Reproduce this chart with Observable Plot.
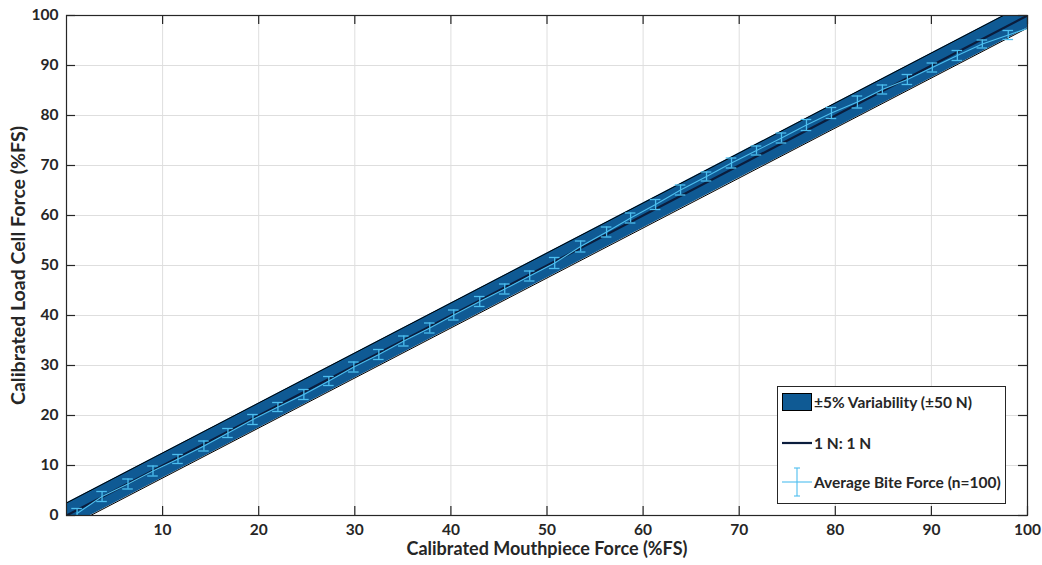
<!DOCTYPE html>
<html>
<head>
<meta charset="utf-8">
<script src="https://cdn.jsdelivr.net/npm/d3@7"></script>
<script src="https://cdn.jsdelivr.net/npm/@observablehq/plot@0.6"></script>
<style>
  html, body { margin: 0; padding: 0; background: #fff; }
  #wrap { position: relative; width: 1042px; height: 565px; font-family: Lato, "DejaVu Sans", sans-serif; }
  #legend { position: absolute; left: 777px; top: 386px; width: 229px; height: 118px; background: #fff; border: 1px solid #262626; box-sizing: border-box; }
  .li { position: absolute; left: 3px; display: flex; align-items: center; font-size: 15.5px; font-weight: 700; color: #262626; white-space: nowrap; }
  .li svg { display: block; margin-right: 1px; }
</style>
</head>
<body>
<div id="wrap"></div>
<script>
// ---- data ----
const meanX = [1.1, 3.7, 6.4, 9.0, 11.6, 14.3, 16.8, 19.4, 22.0, 24.7, 27.3, 29.9, 32.5, 35.1, 37.8, 40.3, 43.0, 45.6, 48.2, 50.8, 53.5, 56.2, 58.7, 61.3, 63.9, 66.6, 69.2, 71.8, 74.4, 77.0, 79.6, 82.3, 84.9, 87.5, 90.1, 92.7, 95.3, 98.0, 100.6];
const meanY = [0.4, 3.8, 6.3, 8.9, 11.3, 13.9, 16.5, 19.2, 21.7, 24.2, 26.9, 29.7, 32.2, 34.9, 37.5, 40.1, 42.8, 45.3, 47.9, 50.5, 53.8, 56.7, 59.5, 62.2, 65.1, 67.8, 70.5, 73.0, 75.5, 78.1, 80.5, 82.7, 85.2, 87.2, 89.6, 92.0, 94.3, 96.1, 97.8];
const errY  = [1.0, 1.0, 1.0, 1.0, 0.9, 1.0, 0.9, 1.0, 0.9, 1.0, 0.9, 1.0, 1.0, 1.0, 1.0, 1.0, 1.0, 1.0, 1.0, 1.1, 1.1, 1.0, 1.0, 1.0, 1.0, 0.9, 1.0, 0.9, 1.0, 1.1, 1.1, 1.2, 0.9, 1.0, 0.9, 1.0, 0.8, 0.9, 0.9];
const idealX = [0, 100];
const idealY = [0, 100];
const bandHalf = 2.5; // ±5% variability band (±50 N) in %FS
const xTicks = [10, 20, 30, 40, 50, 60, 70, 80, 90, 100];
const yTicks = [0, 10, 20, 30, 40, 50, 60, 70, 80, 90, 100];
const xLabel = "Calibrated Mouthpiece Force (%FS)";
const yLabel = "Calibrated Load Cell Force (%FS)";
const legendLabels = ["±5% Variability (±50 N)", "1 N: 1 N", "Average Bite Force (n=100)"];

// ---- styles ----
const bandFill = "#0f5a94";
const idealColor = "#0b1d3d";
const meanColor = "#4dbeee";
const axisColor = "#262626";
const gridColor = "#dedede";
const capHalf = 0.55;

const ideal = idealX.map((x, i) => ({x, y: idealY[i]}));
const band = ideal.map(d => ({x: d.x, lo: d.y - bandHalf, hi: d.y + bandHalf}));
const pts = meanX.map((x, i) => ({x, y: meanY[i], e: errY[i]}));

const W = 1042, H = 565;
const mL = 66, mR = 15, mT = 15, mB = 50;
const fw = W - mL - mR, fh = H - mT - mB;

const chart = Plot.plot({
  width: W, height: H,
  marginLeft: mL, marginRight: mR, marginTop: mT, marginBottom: mB,
  style: {fontFamily: "Lato, 'DejaVu Sans', sans-serif", fontSize: "15.5px", fontWeight: 700, color: axisColor, background: "#fff"},
  x: {domain: [0, 100], ticks: xTicks, tickSize: 0, tickPadding: 8, label: null},
  y: {domain: [0, 100], ticks: yTicks, tickSize: 0, tickPadding: 8, label: null},
  marks: [
    Plot.ruleX(xTicks, {x: d => d, stroke: gridColor, strokeWidth: 1}),
    Plot.ruleY(yTicks, {y: d => d, stroke: gridColor, strokeWidth: 1}),
    Plot.areaY(band, {x: "x", y1: "lo", y2: "hi", fill: bandFill, clip: true}),
    Plot.lineY(band, {x: "x", y: "lo", stroke: "#000", strokeWidth: 1, clip: true}),
    Plot.lineY(band, {x: "x", y: "hi", stroke: "#000", strokeWidth: 1, clip: true}),
    Plot.lineY(ideal, {x: "x", y: "y", stroke: idealColor, strokeWidth: 2.2, clip: true}),
    Plot.lineY(pts, {x: "x", y: "y", stroke: meanColor, strokeWidth: 1.1, clip: true}),
    Plot.ruleX(pts, {x: "x", y1: d => d.y - d.e, y2: d => d.y + d.e, stroke: meanColor, strokeWidth: 1.3, clip: true}),
    Plot.ruleY(pts, {y: d => d.y - d.e, x1: d => d.x - capHalf, x2: d => d.x + capHalf, stroke: meanColor, strokeWidth: 1.3, clip: true}),
    Plot.ruleY(pts, {y: d => d.y + d.e, x1: d => d.x - capHalf, x2: d => d.x + capHalf, stroke: meanColor, strokeWidth: 1.3, clip: true}),
    Plot.frame({stroke: axisColor, strokeWidth: 1.2}),
    Plot.tickX(xTicks, {x: d => d, insetTop: fh - 9, stroke: axisColor, strokeWidth: 1.2}),
    Plot.tickX(xTicks, {x: d => d, insetBottom: fh - 9, stroke: axisColor, strokeWidth: 1.2}),
    Plot.tickY(yTicks, {y: d => d, insetRight: fw - 9, stroke: axisColor, strokeWidth: 1.2}),
    Plot.tickY(yTicks, {y: d => d, insetLeft: fw - 9, stroke: axisColor, strokeWidth: 1.2}),
    Plot.text([xLabel], {text: d => d, frameAnchor: "bottom", textAnchor: "middle", dy: 39, fontSize: 18, fontWeight: 700, fill: axisColor}),
    Plot.text([yLabel], {text: d => d, frameAnchor: "left", textAnchor: "middle", dx: -48, rotate: -90, fontSize: 19.5, fontWeight: 700, fill: axisColor})
  ]
});

const wrap = document.getElementById("wrap");
wrap.appendChild(chart);

// legend
const lg = document.createElement("div");
lg.id = "legend";
lg.innerHTML = `
  <div class="li" style="top:5px"><svg width="32" height="20"><rect x="1.5" y="1.5" width="29" height="17" fill="${bandFill}" stroke="#000" stroke-width="1"/></svg><span>${legendLabels[0]}</span></div>
  <div class="li" style="top:46px"><svg width="32" height="20"><line x1="1" y1="10" x2="31" y2="10" stroke="${idealColor}" stroke-width="2.2"/></svg><span>${legendLabels[1]}</span></div>
  <div class="li" style="top:80px"><svg width="32" height="30"><line x1="1" y1="15" x2="31" y2="15" stroke="${meanColor}" stroke-width="1.1"/><line x1="16" y1="1" x2="16" y2="29" stroke="${meanColor}" stroke-width="1.1"/><line x1="13" y1="1" x2="19" y2="1" stroke="${meanColor}" stroke-width="1.1"/><line x1="13" y1="29" x2="19" y2="29" stroke="${meanColor}" stroke-width="1.1"/></svg><span>${legendLabels[2]}</span></div>
`;
wrap.appendChild(lg);
</script>
</body>
</html>
